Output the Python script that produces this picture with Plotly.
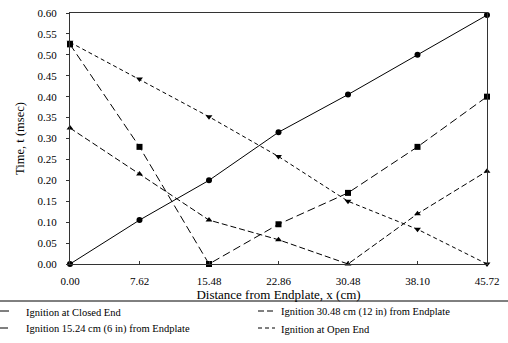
import plotly.graph_objects as go

x_vals = [0.0, 7.62, 15.24, 22.86, 30.48, 38.10, 45.72]
x_ticktext = ["0.00", "7.62", "15.48", "22.86", "30.48", "38.10", "45.72"]
y_ticks = [0.00, 0.05, 0.10, 0.15, 0.20, 0.25, 0.30, 0.35, 0.40, 0.45, 0.50, 0.55, 0.60]

closed_end = [0.000, 0.105, 0.200, 0.315, 0.405, 0.500, 0.595]
ign_15 = [0.525, 0.280, 0.000, 0.095, 0.170, 0.280, 0.400]
ign_30 = [0.325, 0.215, 0.105, 0.058, 0.000, 0.120, 0.222]
open_end = [0.530, 0.442, 0.352, 0.257, 0.150, 0.083, 0.000]

legend_labels = [
    "Ignition at Closed End",
    "Ignition 30.48 cm (12 in) from Endplate",
    "Ignition 15.24 cm (6 in) from Endplate",
    "Ignition at Open End",
]

FONT = "Liberation Serif"
W, H = 508, 343
ML, MR, MT, MB = 70, 21, 13, 79
PW, PH = W - ML - MR, H - MT - MB

def px_x(p):
    return (p - ML) / PW

def px_y(p):
    return (H - MB - p) / PH

series = [
    (legend_labels[0], closed_end, "circle", "solid"),
    (legend_labels[1], ign_30, "triangle-up", "6px,3px"),
    (legend_labels[2], ign_15, "square", "8px,4px"),
    (legend_labels[3], open_end, "triangle-down", "4px,3px"),
]

fig = go.Figure()
for name, ys, sym, dash in series:
    fig.add_trace(go.Scatter(
        x=x_vals, y=ys, mode="lines+markers", name=name, showlegend=False,
        line=dict(color="black", width=1, dash=dash),
        marker=dict(symbol=sym, size=6, color="black"),
        cliponaxis=False,
    ))

# manual legend: 2 columns x 2 rows
shapes = [dict(type="line", xref="paper", yref="paper",
               x0=px_x(0), x1=px_x(W), y0=px_y(301), y1=px_y(301),
               line=dict(color="black", width=1))]
annotations = []
positions = [(0, 312), (258, 312), (0, 329), (258, 329)]
for (name, ys, sym, dash), (lx, ly) in zip(series, positions):
    seg = 9 if lx == 0 else 17
    shapes.append(dict(type="line", xref="paper", yref="paper",
                       x0=px_x(lx), x1=px_x(lx + seg), y0=px_y(ly - 1), y1=px_y(ly - 1),
                       line=dict(color="black", width=1, dash=dash)))
    annotations.append(dict(text=name, xref="paper", yref="paper",
                            x=px_x(lx + (24 if lx == 0 else 21)), y=px_y(ly),
                            xanchor="left", yanchor="middle", showarrow=False,
                            font=dict(size=10.5, family=FONT, color="black")))

fig.update_layout(
    width=W, height=H,
    margin=dict(l=ML, r=MR, t=MT, b=MB, autoexpand=False),
    paper_bgcolor="white", plot_bgcolor="white",
    font=dict(family=FONT, size=11, color="black"),
    showlegend=False,
    xaxis=dict(
        range=[0, 45.72], tickvals=x_vals, ticktext=x_ticktext,
        showgrid=False, zeroline=False, showline=True, mirror=True,
        linecolor="#333", linewidth=1, ticks="inside", ticklen=3,
        tickcolor="#333", ticklabelstandoff=7, automargin=False,
        tickfont=dict(size=11, family=FONT),
        title=dict(text="Distance from Endplate, x (cm)", font=dict(size=13, family=FONT), standoff=1),
    ),
    yaxis=dict(
        range=[0, 0.60], tickvals=y_ticks, tickformat=".2f",
        showgrid=False, zeroline=False, showline=True, mirror=True,
        linecolor="#333", linewidth=1, ticks="outside", ticklen=3,
        tickcolor="#333", ticklabelstandoff=7, automargin=False,
        tickfont=dict(size=11, family=FONT),
        title=dict(text="Time, t (msec)", font=dict(size=12.5, family=FONT), standoff=10),
    ),
    shapes=shapes,
    annotations=annotations,
)

fig.write_html("out.html")
